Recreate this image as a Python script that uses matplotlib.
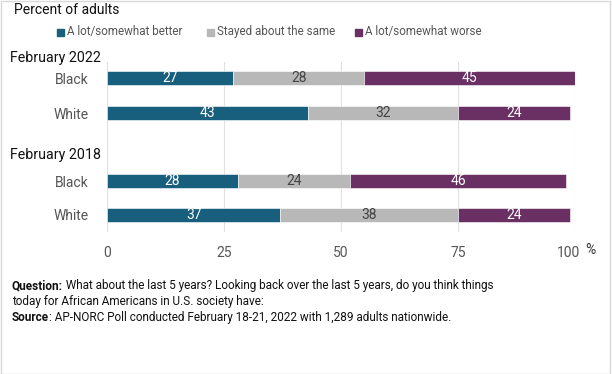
import matplotlib
matplotlib.use("Agg")
import matplotlib.pyplot as plt
from matplotlib.patches import Rectangle
import matplotlib.transforms as mtransforms

plt.rcParams['font.family'] = ['Roboto', 'DejaVu Sans']

groups = ["February 2022", "February 2018"]
rows = ["Black", "White", "Black", "White"]
series_names = ["A lot/somewhat better", "Stayed about the same", "A lot/somewhat worse"]
better = [27, 43, 28, 37]
same = [28, 32, 24, 38]
worse = [45, 24, 46, 24]
xticks = [0, 25, 50, 75, 100]

colors = ["#185e7d", "#b8b8b8", "#6a2f63"]
text_colors = ["white", "#444444", "white"]

fig = plt.figure(figsize=(6.12, 3.74), dpi=100)
W, H = 612, 374
ax = fig.add_axes([107 / W, 1 - 232 / H, (575 - 107) / W, (232 - 62) / H])

ypos = [0, 1, 2.94, 3.91]
bar_h = 0.4
data = [better, same, worse]
left = [0] * len(rows)
for si, vals in enumerate(data):
    ax.barh(ypos, vals, left=left, height=bar_h, color=colors[si], zorder=2,
            edgecolor="white", linewidth=0.4)
    for y, l, v in zip(ypos, left, vals):
        ax.text(l + v / 2, y, str(v), ha="center", va="center",
                color=text_colors[si], fontsize=10, zorder=3)
    left = [a + b for a, b in zip(left, vals)]

ax.set_xlim(0, 100)
ax.set_ylim(3.91 + 17 / 35, -16 / 35)
ax.set_yticks(ypos)
ax.set_yticklabels(rows, fontsize=10, color="#555555")
ax.set_xticks(xticks)
ax.set_xticklabels([str(t) for t in xticks], fontsize=10, color="#555555")
ax.tick_params(axis="both", length=0)
ax.tick_params(axis="y", pad=13)
ax.tick_params(axis="x", pad=10)
for s in ax.spines.values():
    s.set_visible(False)
ax.grid(axis="x", color="#e0e0e0", linewidth=0.8, zorder=0)
ax.set_axisbelow(True)

# shift the last tick label slightly left (as in reference)
lastlab = ax.get_xticklabels()[-1]
lastlab.set_transform(lastlab.get_transform() + mtransforms.ScaledTranslation(-6 / 100, 0, fig.dpi_scale_trans))

# percent sign
fig.text(590 / W, 1 - 250 / H, "%", fontsize=10, color="#333333", ha="center", va="center")

# group headers
trans = mtransforms.blended_transform_factory(fig.transFigure, ax.transData)
ax.text(10 / W, -0.57, groups[0], transform=trans, fontsize=10.3, color="#111111",
        ha="left", va="center", clip_on=False)
ax.text(10 / W, 2.2, groups[1], transform=trans, fontsize=10.3, color="#111111",
        ha="left", va="center", clip_on=False)

# title
fig.text(14 / W, 1 - 10 / H, "Percent of adults", fontsize=10, color="#111111",
         ha="left", va="center")

# legend
leg_x = [57, 207, 355]
for i, name in enumerate(series_names):
    fig.patches.append(Rectangle((leg_x[i] / W, 1 - 35.5 / H), 7 / W, 7 / H,
                                 transform=fig.transFigure, color=colors[i]))
    fig.text((leg_x[i] + 10) / W, 1 - 32 / H, name, fontsize=8.4, color="#555555",
             ha="left", va="center")

# footnotes
fs = 8.5
renderer = fig.canvas.get_renderer()

def rich_line(x_px, y_px, bold_part, rest):
    t = fig.text(x_px / W, 1 - y_px / H, bold_part, fontsize=fs, fontweight="bold",
                 color="#111111", ha="left", va="baseline")
    wpx = t.get_window_extent(renderer=renderer).width
    fig.text((x_px + wpx) / W, 1 - y_px / H, rest, fontsize=fs,
             color="#111111", ha="left", va="baseline")

rich_line(12, 289, "Question:", " What about the last 5 years? Looking back over the last 5 years, do you think things")
fig.text(12 / W, 1 - 305 / H, "today for African Americans in U.S. society have:", fontsize=fs,
         color="#111111", ha="left", va="baseline")
rich_line(12, 321, "Source", ": AP-NORC Poll conducted February 18-21, 2022 with 1,289 adults nationwide.")

# frame
fig.patches.append(Rectangle((0.5 / W, 0.5 / H), (W - 3) / W, (H - 1) / H,
                             transform=fig.transFigure, fill=False,
                             edgecolor="#d8d8d8", linewidth=1))

fig.savefig("out.png", dpi=100)
